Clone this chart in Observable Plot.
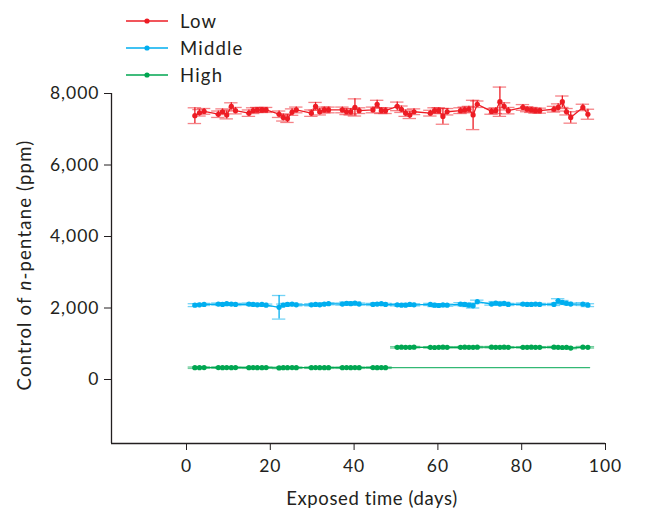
<!DOCTYPE html>
<html><head><meta charset="utf-8">
<script src="https://cdn.jsdelivr.net/npm/d3@7"></script>
<script src="https://cdn.jsdelivr.net/npm/@observablehq/plot@0.6"></script>
<style>
body{margin:0;background:#fff;font-family:Lato,"Open Sans",sans-serif;}
#wrap{position:relative;width:651px;height:512px;}
#legend{position:absolute;left:126px;top:7px;}
.row{display:flex;align-items:center;height:27px;font-size:18.5px;letter-spacing:1.2px;color:#231f20;}
.row svg{margin-right:12px;}
</style></head><body>
<div id="wrap"><div id="chart"></div><div id="legend"></div></div>
<script>
const seriesNames = ["Low", "Middle", "High"];
const seriesColors = ["#ed1c24", "#00aeef", "#00a651"];
const xTicks = [0, 20, 40, 60, 80, 100];
const yTicks = [0, 2000, 4000, 6000, 8000];

const days = [
  2.0, 3.1, 4.2,
  7.6, 8.6, 9.6, 10.7, 11.7,
  14.9, 15.9, 16.9, 18.0, 19.0,
  22.1, 23.1, 24.1, 25.2, 26.2,
  29.8, 30.8, 31.8, 32.9, 33.9,
  37.2, 38.2, 39.2, 40.2, 41.2,
  44.5, 45.5, 46.5, 47.5,
  50.3, 51.3, 52.3, 53.3, 54.3,
  58.2, 59.2, 60.2, 61.2, 62.2,
  65.4, 66.4, 67.4, 68.4, 69.4,
  72.8, 73.8, 74.8, 75.8, 76.8,
  80.3, 81.3, 82.3, 83.3, 84.3,
  87.7, 88.7, 89.7, 90.7, 91.7,
  94.6, 95.8
];
const lowValues = [
  7380, 7460, 7500,
  7420, 7490, 7400, 7640, 7520,
  7450, 7520, 7540, 7540, 7540,
  7420, 7330, 7300, 7480, 7540,
  7450, 7640, 7490, 7540, 7540,
  7540, 7490, 7490, 7610, 7520,
  7540, 7700, 7520, 7520,
  7640, 7560, 7450, 7400, 7490,
  7450, 7520, 7520, 7360, 7490,
  7520, 7540, 7560, 7400, 7700,
  7500, 7520, 7770, 7640, 7520,
  7610, 7560, 7540, 7520, 7520,
  7560, 7610, 7770, 7490, 7330,
  7610, 7420
];
const lowErr = [
  220, 90, 80,
  90, 80, 110, 100, 90,
  90, 80, 70, 70, 70,
  90, 100, 110, 90, 80,
  90, 110, 90, 80, 80,
  80, 80, 90, 240, 80,
  80, 110, 80, 80,
  120, 90, 90, 100, 80,
  80, 80, 80, 220, 90,
  80, 80, 80, 410, 90,
  80, 80, 410, 100, 90,
  80, 70, 70, 70, 70,
  80, 100, 160, 90, 160,
  90, 140
];
const middleValues = [
  2080, 2090, 2100,
  2110, 2100, 2120, 2110, 2100,
  2110, 2100, 2090, 2100, 2080,
  2020, 2080, 2100, 2110, 2090,
  2090, 2100, 2090, 2110, 2120,
  2110, 2130, 2120, 2140, 2110,
  2100, 2110, 2120, 2100,
  2090, 2080, 2080, 2100, 2090,
  2100, 2080, 2070, 2090, 2080,
  2110, 2100, 2080, 2060, 2180,
  2110, 2140, 2110, 2130, 2100,
  2110, 2100, 2100, 2110, 2100,
  2100, 2200, 2160, 2130, 2110,
  2110, 2080
];
const middleErr = [
  40, 30, 30,
  30, 30, 30, 30, 30,
  30, 30, 30, 30, 30,
  330, 30, 30, 30, 30,
  30, 30, 30, 30, 30,
  30, 40, 30, 30, 30,
  30, 30, 30, 30,
  30, 30, 30, 30, 30,
  30, 40, 40, 30, 30,
  40, 40, 40, 60, 40,
  30, 40, 30, 30, 30,
  30, 30, 30, 30, 30,
  30, 60, 50, 30, 30,
  40, 40
];
const highValues = [
  330, 330, 335,
  335, 330, 335, 330, 335,
  330, 335, 330, 330, 335,
  325, 330, 330, 335, 330,
  330, 335, 330, 330, 330,
  330, 335, 330, 335, 330,
  335, 330, 335, 330,
  900, 905, 900, 900, 905,
  900, 895, 900, 905, 900,
  900, 905, 900, 900, 905,
  905, 900, 900, 905, 900,
  900, 900, 905, 900, 900,
  905, 900, 895, 900, 880,
  905, 900
];
const highErr = [
  20, 20, 20,
  20, 20, 20, 20, 20,
  20, 20, 20, 20, 20,
  20, 20, 20, 20, 20,
  20, 20, 20, 20, 20,
  20, 20, 20, 20, 20,
  20, 20, 20, 20,
  20, 20, 20, 20, 20,
  20, 20, 20, 20, 20,
  20, 20, 20, 20, 20,
  20, 20, 20, 20, 20,
  20, 20, 20, 20, 20,
  20, 20, 20, 20, 20,
  20, 20
];
const highSegment = days.map((d, i) => i < 32 ? "High-a" : "High-b");
const highBaseDays = [47.5, 96.2];
const highBaseValues = [330, 330];

const xDomain = [-17.9, 100];
const yDomain = [-1790, 8000];

const rows = [];
days.forEach((d, i) => {
  rows.push({series: "Low", seg: "Low", day: d, value: lowValues[i], err: lowErr[i]});
  rows.push({series: "Middle", seg: "Middle", day: d, value: middleValues[i], err: middleErr[i]});
  rows.push({series: "High", seg: highSegment[i], day: d, value: highValues[i], err: highErr[i]});
});
const caps = rows.flatMap(r => [
  {series: r.series, day: r.day, y: r.value + r.err},
  {series: r.series, day: r.day, y: r.value - r.err}
]);
const baseRows = highBaseDays.map((d, i) => ({series: "High", day: d, value: highBaseValues[i]}));

const color = {domain: seriesNames, range: seriesColors};

const chart = Plot.plot({
  width: 651, height: 512,
  marginLeft: 111, marginRight: 46, marginTop: 93, marginBottom: 69,
  style: "font-family: Lato, 'Open Sans', sans-serif; font-size: 17.5px; letter-spacing: 1px; color: #231f20; background: #fff;",
  x: {domain: xDomain},
  y: {domain: yDomain},
  color,
  marks: [
    Plot.ruleX([xDomain[0]], {y1: yDomain[0], y2: yDomain[1], stroke: "#231f20", strokeWidth: 1.3}),
    Plot.ruleY([yDomain[0]], {x1: xDomain[0], x2: xDomain[1], stroke: "#231f20", strokeWidth: 1.3}),
    Plot.axisX({ticks: xTicks, tickSize: 7, tickPadding: 9, label: null, stroke: "#231f20"}),
    Plot.axisY({ticks: yTicks, tickFormat: d3.format(","), tickSize: 7, tickPadding: 5, label: null, stroke: "#231f20"}),
    Plot.line(baseRows, {x: "day", y: "value", stroke: "series", strokeWidth: 1.3, strokeOpacity: 0.8}),
    Plot.ruleX(rows, {x: "day", y1: d => d.value - d.err, y2: d => d.value + d.err, stroke: "series", strokeWidth: 1.3}),
    Plot.ruleY(caps, {y: "y", x1: d => d.day - 1.6, x2: d => d.day + 1.6, stroke: "series", strokeWidth: 1.3, strokeOpacity: 0.55}),
    Plot.line(rows, {x: "day", y: "value", z: "seg", stroke: "series", strokeWidth: 1.3}),
    Plot.dot(rows, {x: "day", y: "value", r: 2.6, fill: "series", stroke: "none"})
  ]
});
document.getElementById("chart").appendChild(chart);

const svg = d3.select(chart);
svg.append("text")
  .attr("x", 372).attr("y", 505)
  .attr("text-anchor", "middle")
  .attr("font-size", 18.5).attr("letter-spacing", "0.6px").attr("fill", "#231f20")
  .text("Exposed time (days)");
const yl = svg.append("text")
  .attr("transform", "translate(31,265) rotate(-90)")
  .attr("text-anchor", "middle")
  .attr("font-size", 18.5).attr("letter-spacing", "1.2px").attr("fill", "#231f20");
yl.append("tspan").text("Control of ");
yl.append("tspan").attr("font-style", "italic").text("n");
yl.append("tspan").text("-pentane (ppm)");

const legend = d3.select("#legend");
seriesNames.forEach((name, i) => {
  const row = legend.append("div").attr("class", "row");
  const s = row.append("svg").attr("width", 42).attr("height", 10);
  s.append("line").attr("x1", 0).attr("x2", 42).attr("y1", 5).attr("y2", 5)
    .attr("stroke", seriesColors[i]).attr("stroke-width", 1.5);
  s.append("circle").attr("cx", 21).attr("cy", 5).attr("r", 2.6).attr("fill", seriesColors[i]);
  row.append("span").text(name);
});
</script>
</body></html>
